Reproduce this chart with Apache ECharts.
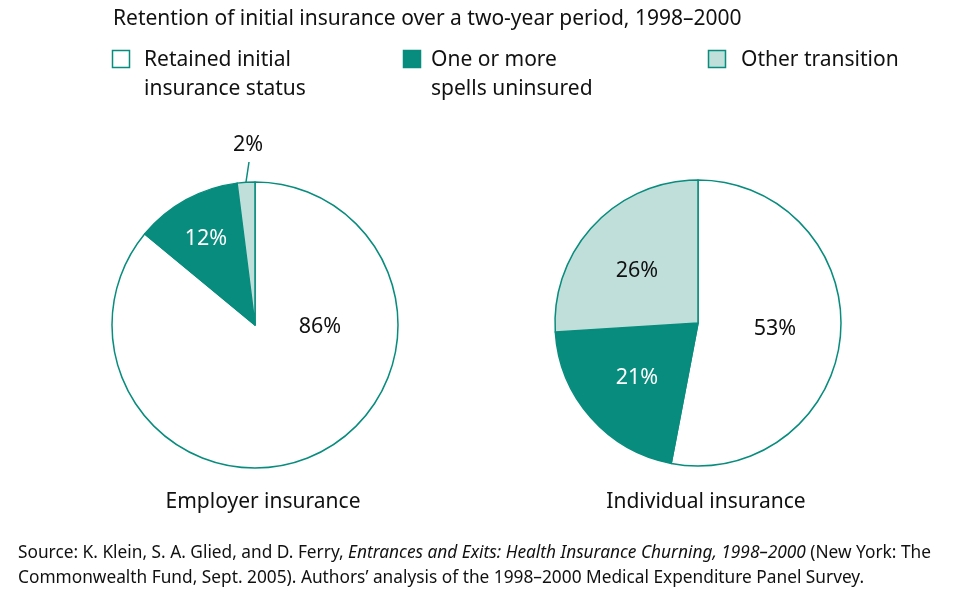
<!DOCTYPE html>
<html>
<head>
<meta charset="utf-8">
<script src="https://cdn.jsdelivr.net/npm/echarts@6/dist/echarts.min.js"></script>
<style>
  html, body { margin: 0; padding: 0; background: #fff; }
  #chart { width: 955px; height: 601px; }
</style>
</head>
<body>
<div id="chart"></div>
<script>
// data
var categories = ['Retained initial insurance status', 'One or more spells uninsured', 'Other transition'];
var legendLabels = ['Retained initial\ninsurance status', 'One or more\nspells uninsured', 'Other transition'];
var employerValues = [86, 12, 2];
var individualValues = [53, 21, 26];
var pieTitles = ['Employer insurance', 'Individual insurance'];
var chartTitle = 'Retention of initial insurance over a two-year period, 1998\u20132000';

var FONT = '"Noto Sans", sans-serif';
var TEAL = '#078c7d';
var LIGHT = '#c0dfdb';
var fills = ['#ffffff', TEAL, LIGHT];
var labelColors = ['#111111', '#ffffff', '#111111'];

// where the percent labels sit (pixels), per pie
var labelSpots = [
  [[320, 327], [206, 239], [248, 145]],
  [[775, 329], [637, 378], [637, 271]]
];
var leaderLine = [[246, 182], [247.5, 172], [249, 162]];
var pieCenters = [[255, 325], [698, 323]];
var legendX = [112, 403, 708];
var legendTextX = [144, 431, 741];

var chart = echarts.init(document.getElementById('chart'));

function pieSeries(values, idx) {
  return {
    type: 'pie',
    center: pieCenters[idx],
    radius: 143,
    startAngle: 90,
    clockwise: true,
    silent: true,
    animation: false,
    avoidLabelOverlap: false,
    itemStyle: { borderColor: TEAL, borderWidth: 1.5 },
    label: {
      show: true,
      position: 'inside',
      formatter: '{c}%',
      fontFamily: FONT,
      fontSize: 21.5
    },
    labelLine: { show: false },
    labelLayout: function (p) {
      var spot = labelSpots[idx][p.dataIndex];
      var res = { x: spot[0], y: spot[1], align: 'center', verticalAlign: 'middle' };
      if (values[p.dataIndex] < 5) res.labelLinePoints = leaderLine;
      return res;
    },
    data: values.map(function (v, i) {
      var item = {
        name: categories[i],
        value: v,
        itemStyle: { color: fills[i] },
        label: { color: labelColors[i] }
      };
      if (v < 5) {
        item.label.position = 'outside';
        item.labelLine = { show: true, smooth: false, lineStyle: { color: TEAL, width: 1.5 } };
      }
      return item;
    })
  };
}

var graphics = [
  {
    type: 'text', left: 113, top: 9,
    style: { text: chartTitle, font: '21px ' + FONT, fill: '#111' }
  }
];

legendLabels.forEach(function (txt, i) {
  graphics.push({
    type: 'rect',
    shape: { x: legendX[i] + 0.5, y: 50.5, width: 17, height: 17 },
    style: { fill: fills[i], stroke: TEAL, lineWidth: 1.5 }
  });
  graphics.push({
    type: 'text', x: legendTextX[i], y: 46,
    style: { text: txt, font: '21px ' + FONT, fill: '#111', lineHeight: 29 }
  });
});

pieTitles.forEach(function (t, i) {
  graphics.push({
    type: 'text', x: pieCenters[i][0] + 8, y: 502,
    style: { text: t, font: '21px ' + FONT, fill: '#111', align: 'center', verticalAlign: 'middle' }
  });
});

graphics.push({
  type: 'text', x: 18, y: 541,
  style: {
    text: 'Source: K. Klein, S. A. Glied, and D. Ferry, {i|Entrances and Exits: Health Insurance Churning, 1998\u20132000} (New York: The\n' +
          'Commonwealth Fund, Sept. 2005). Authors\u2019 analysis of the 1998\u20132000 Medical Expenditure Panel Survey.',
    font: '17.3px ' + FONT,
    fill: '#111',
    lineHeight: 25,
    rich: { i: { fontStyle: 'italic', fontFamily: FONT, fontSize: 17.3, lineHeight: 25 } }
  }
});

chart.setOption({
  backgroundColor: '#ffffff',
  animation: false,
  series: [pieSeries(employerValues, 0), pieSeries(individualValues, 1)],
  graphic: graphics
});
</script>
</body>
</html>
